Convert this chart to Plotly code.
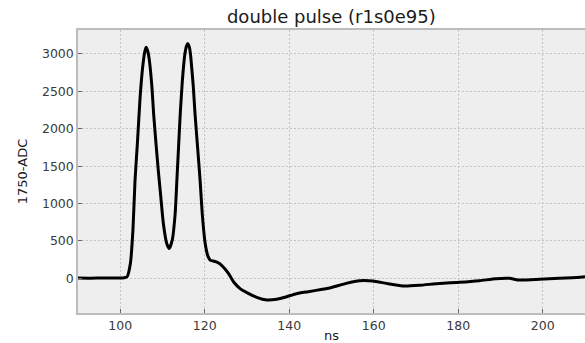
import plotly.graph_objects as go

# Digitised waveform of the double pulse (time in ns, baseline-subtracted ADC counts)
t_ns = [90, 93, 96, 99, 101, 101.6, 102.4, 103.0, 103.5, 104.1, 104.7, 105.3, 105.8,
        106.1, 106.5, 106.9, 107.5, 107.9, 108.4, 109.0, 109.6, 110.2, 111.0, 111.6,
        112.3, 113.0, 113.4, 113.8, 114.2, 114.7, 115.3, 115.7, 116.0, 116.4, 116.7,
        117.3, 117.7, 118.3, 118.9, 119.4, 120.1, 120.8, 121.3, 122.0, 123.0, 124.0,
        124.8, 125.6, 126.8, 128.3, 130.3, 132.3, 134.7, 137.0, 139.4, 141.7, 144.5,
        147.5, 150.0, 153.5, 156.7, 159.8, 163.0, 167.3, 170.8, 175.6, 180.3, 185.0,
        188.9, 192.1, 194.5, 199.2, 203.9, 207.0, 210.0]
adc = [5, 3, 6, 4, 8, 20, 200, 644, 1311, 1844, 2421, 2821, 3030,
       3090, 3040, 2911, 2555, 2200, 1844, 1444, 1088, 733, 467, 400,
       511, 867, 1311, 1755, 2200, 2644, 3000, 3110, 3141, 3080, 2955,
       2555, 2200, 1755, 1311, 867, 467, 290, 244, 232, 215, 175,
       125, 67, -45, -133, -200, -253, -289, -280, -245, -205, -178,
       -150, -122, -67, -32, -36, -67, -103, -93, -67, -53, -32,
       -5, 0, -23, -13, 0, 8, 21]

x_ticks = [100, 120, 140, 160, 180, 200]
y_ticks = [0, 500, 1000, 1500, 2000, 2500, 3000]

fig = go.Figure()
fig.add_trace(go.Scatter(
    x=t_ns, y=adc, mode="lines",
    line=dict(color="black", width=3, shape="spline", smoothing=0.5),
    showlegend=False, hoverinfo="x+y",
))

axis_common = dict(
    showgrid=True, gridcolor="#c4c4c4", gridwidth=0.8, griddash="2px,2px",
    zeroline=False, showline=True, linecolor="#bcbcbc", linewidth=1.5,
    ticks="inside", ticklen=4, tickcolor="#666666", tickwidth=1,
    tickfont=dict(family="DejaVu Sans", size=12.5, color="#3a3a3a"),
)

fig.update_layout(
    width=585, height=343,
    margin=dict(l=78, r=0, t=30, b=30),
    paper_bgcolor="white", plot_bgcolor="#eeeeee",
    title=dict(text="double pulse (r1s0e95)", x=0.5664, xanchor="center",
               yref="container", y=1 - 17 / 343, yanchor="middle",
               font=dict(family="DejaVu Sans", size=18, color="#1a1a1a")),
    xaxis=dict(range=[90, 210], tickvals=x_ticks, mirror=True,
               title=dict(text="ns", standoff=2,
                          font=dict(family="DejaVu Sans", size=13, color="#1a1a1a")),
               **axis_common),
    yaxis=dict(range=[-463, 3320], tickvals=y_ticks,
               title=dict(text="1750-ADC", standoff=11,
                          font=dict(family="DejaVu Sans", size=13, color="#1a1a1a")),
               **axis_common),
)

fig.write_html("out.html")
